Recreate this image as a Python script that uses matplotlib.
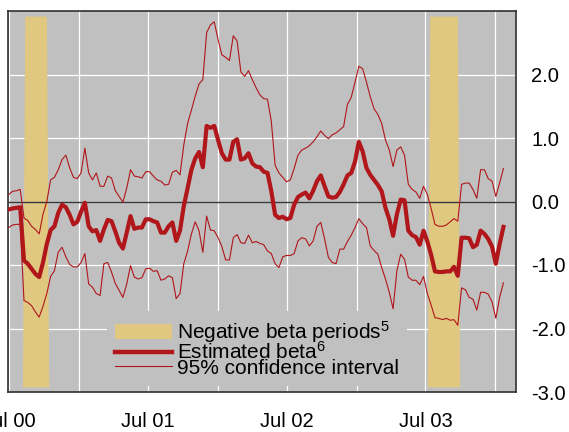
import matplotlib
matplotlib.use("Agg")
import matplotlib.pyplot as plt
import matplotlib.dates as mdates
from matplotlib.patches import Patch
from matplotlib.lines import Line2D
from matplotlib.ticker import FuncFormatter, FixedLocator
import numpy as np
import pandas as pd

plt.rcParams["font.family"] = ["Liberation Sans", "DejaVu Sans"]
plt.rcParams["mathtext.fontset"] = "custom"
plt.rcParams["mathtext.rm"] = "Liberation Sans"
plt.rcParams["mathtext.it"] = "Liberation Sans"
plt.rcParams["mathtext.bf"] = "Liberation Sans"
plt.rcParams["axes.unicode_minus"] = False

# ---- data: 10-day observations from July 2000 ----
start_date = "2000-07-01"
step = "10D"

beta = [
    -0.125, -0.11, -0.10, -0.09, -0.93, -0.98, -1.06, -1.14, -1.19, -0.96,
    -0.67, -0.45, -0.39, -0.18, -0.05, -0.09, -0.21, -0.36, -0.32, -0.16,
    -0.02, -0.39, -0.47, -0.45, -0.62, -0.44, -0.29,
    -0.31, -0.47, -0.65, -0.74, -0.49, -0.23, -0.43, -0.41, -0.41, -0.28,
    -0.28, -0.31, -0.33, -0.49, -0.49, -0.39, -0.33, -0.62, -0.46, -0.07,
    0.21, 0.50, 0.68, 0.78, 0.54, 1.19, 1.16,
    1.19, 0.97, 0.76, 0.66, 0.66, 0.94, 0.98, 0.66, 0.68, 0.76,
    0.60, 0.55, 0.54, 0.47, 0.45, 0.16, -0.21, -0.26, -0.24, -0.28,
    -0.26, -0.05, 0.07, 0.11, 0.14, 0.05, 0.17,
    0.32, 0.41, 0.24, 0.08, 0.06, 0.07, 0.15, 0.27, 0.41, 0.45,
    0.63, 0.94, 0.79, 0.53, 0.42, 0.34, 0.26, 0.16, -0.10, -0.28,
    -0.54, -0.20, 0.03, 0.02, -0.46, -0.53, -0.56,
    -0.68, -0.46, -0.63, -0.84, -1.10, -1.11, -1.11, -1.10, -1.10, -1.03,
    -1.17, -0.57, -0.57, -0.58, -0.72, -0.68, -0.46, -0.51, -0.59, -0.71,
    -0.98, -0.67, -0.40,
]

upper = [
    0.11, 0.16, 0.17, 0.19, -0.26, -0.30, -0.39, -0.44, -0.51, -0.20,
    0.00, 0.34, 0.38, 0.50, 0.66, 0.73, 0.53, 0.38, 0.36, 0.45,
    0.84, 0.45, 0.34, 0.45, 0.24, 0.24, 0.40,
    0.37, 0.17, 0.08, -0.01, 0.21, 0.50, 0.40, 0.39, 0.37, 0.47,
    0.47, 0.40, 0.34, 0.32, 0.26, 0.27, 0.46, 0.49, 0.42, 0.89,
    1.23, 1.44, 1.66, 1.85, 1.92, 2.66, 2.78,
    2.83, 2.55, 2.31, 2.27, 2.22, 2.61, 2.53, 2.04, 1.97, 2.06,
    1.92, 1.79, 1.68, 1.62, 1.61, 1.26, 0.57, 0.45, 0.38, 0.31,
    0.34, 0.52, 0.73, 0.81, 0.84, 0.88, 0.94,
    1.02, 1.11, 1.04, 0.99, 1.05, 1.08, 1.13, 1.18, 1.53, 1.64,
    1.88, 2.13, 2.09, 1.88, 1.65, 1.46, 1.37, 1.23, 0.97, 0.81,
    0.55, 0.81, 0.86, 0.73, 0.27, 0.19, 0.15,
    0.05, 0.24, 0.11, -0.11, -0.36, -0.39, -0.39, -0.37, -0.32, -0.27,
    -0.31, 0.27, 0.29, 0.29, 0.19, 0.05, 0.50, 0.50, 0.36, 0.32,
    0.08, 0.29, 0.52,
]

lower = [
    -0.41, -0.37, -0.36, -0.36, -1.56, -1.59, -1.64, -1.74, -1.82, -1.65,
    -1.45, -1.18, -1.09, -0.80, -0.72, -0.87, -0.99, -1.03, -1.03, -0.96,
    -0.82, -1.30, -1.35, -1.45, -1.48, -0.98, -0.96,
    -1.11, -1.29, -1.40, -1.51, -1.30, -1.01, -1.19, -1.22, -1.20, -1.06,
    -1.05, -1.10, -1.09, -1.24, -1.22, -1.17, -1.20, -1.53, -1.45, -0.98,
    -0.78, -0.51, -0.32, -0.46, -0.80, -0.23, -0.45,
    -0.46, -0.57, -0.71, -0.92, -0.92, -0.57, -0.52, -0.65, -0.66, -0.53,
    -0.65, -0.63, -0.66, -0.68, -0.78, -0.82, -0.98, -1.04, -0.87, -0.85,
    -0.85, -0.82, -0.62, -0.57, -0.59, -0.70, -0.62,
    -0.39, -0.33, -0.59, -0.88, -0.96, -0.98, -0.75, -0.75, -0.63, -0.53,
    -0.41, -0.27, -0.35, -0.41, -0.70, -0.77, -0.83, -1.04, -1.22, -1.43,
    -1.69, -1.09, -0.83, -0.91, -1.19, -1.24, -1.24,
    -1.31, -1.18, -1.45, -1.63, -1.83, -1.84, -1.86, -1.84, -1.87, -1.86,
    -1.95, -1.36, -1.39, -1.51, -1.54, -1.71, -1.43, -1.43, -1.46, -1.58,
    -1.84, -1.51, -1.28,
]

# periods with a negative estimated beta
neg_starts = ["2000-08-12", "2003-07-12"]
neg_ends = ["2000-10-08", "2003-09-23"]

ytick_values = [-3, -2, -1, 0, 1, 2]
xtick_months = [1, 7]

labels = [
    "Negative beta periods$^{5}$",
    "Estimated beta$^{6}$",
    "95% confidence interval",
]

# ---- styling ----
bg = "#c0c0c0"
band_color = "#e0c880"
red = "#b0161a"
tick_fs = 14.5
leg_fs = 15

dates = pd.date_range(start_date, periods=len(beta), freq=step)

fig = plt.figure(figsize=(5.69, 4.32), dpi=100)
ax = fig.add_axes([8 / 569, 40 / 432, 508 / 569, 381 / 432])
ax.set_facecolor(bg)

# shaded areas, rising from the bottom of the panel over a few days
ramp = pd.Timedelta(days=6)
band_lo, band_hi = -2.92, 2.92
for s, e in zip(neg_starts, neg_ends):
    s, e = pd.Timestamp(s), pd.Timestamp(e)
    xs = [s - ramp, s, e, e + ramp]
    ax.fill_between(xs, band_lo, [band_lo, band_hi, band_hi, band_lo],
                    color=band_color, lw=0, zorder=1)

ax.axhline(0, color="#383838", lw=1.0, zorder=2)
ax.plot(dates, upper, color=red, lw=0.8, zorder=3)
ax.plot(dates, lower, color=red, lw=0.8, zorder=3)
ax.plot(dates, beta, color=red, lw=3.0, zorder=4, solid_joinstyle="round")

ax.set_xlim(pd.Timestamp("2000-06-29"), pd.Timestamp("2004-02-24"))
ax.set_ylim(-3, 3)

ax.xaxis.set_major_locator(mdates.MonthLocator(bymonth=xtick_months))


def fmt_date(x, pos):
    d = mdates.num2date(x)
    return d.strftime("Jul %y") if d.month == 7 else ""


ax.xaxis.set_major_formatter(FuncFormatter(fmt_date))
ax.yaxis.tick_right()
ax.yaxis.set_major_locator(FixedLocator(ytick_values))
ax.yaxis.set_major_formatter(FuncFormatter(lambda v, p: f"{v:.1f}"))

ax.grid(True, color="white", lw=0.9, zorder=0)
ax.set_axisbelow(True)
ax.tick_params(axis="both", length=0, labelsize=tick_fs, colors="black")
ax.tick_params(axis="x", pad=14.5)
ax.tick_params(axis="y", pad=11)

for sp in ax.spines.values():
    sp.set_color("#303030")
    sp.set_linewidth(1.2)

handles = [
    Patch(facecolor=band_color, edgecolor="none"),
    Line2D([], [], color=red, lw=3.2),
    Line2D([], [], color=red, lw=0.8),
]
leg = ax.legend(handles, labels, loc="upper left",
                bbox_to_anchor=(107 / 569, 1 - 311 / 432),
                bbox_transform=fig.transFigure,
                frameon=True, fancybox=False, facecolor=bg, edgecolor="none",
                framealpha=1, fontsize=leg_fs, handlelength=2.7,
                handleheight=0.75, handletextpad=0.25, labelspacing=-0.2,
                borderpad=0.4, borderaxespad=0)
leg.set_zorder(6)

fig.savefig("out.png", dpi=100)
